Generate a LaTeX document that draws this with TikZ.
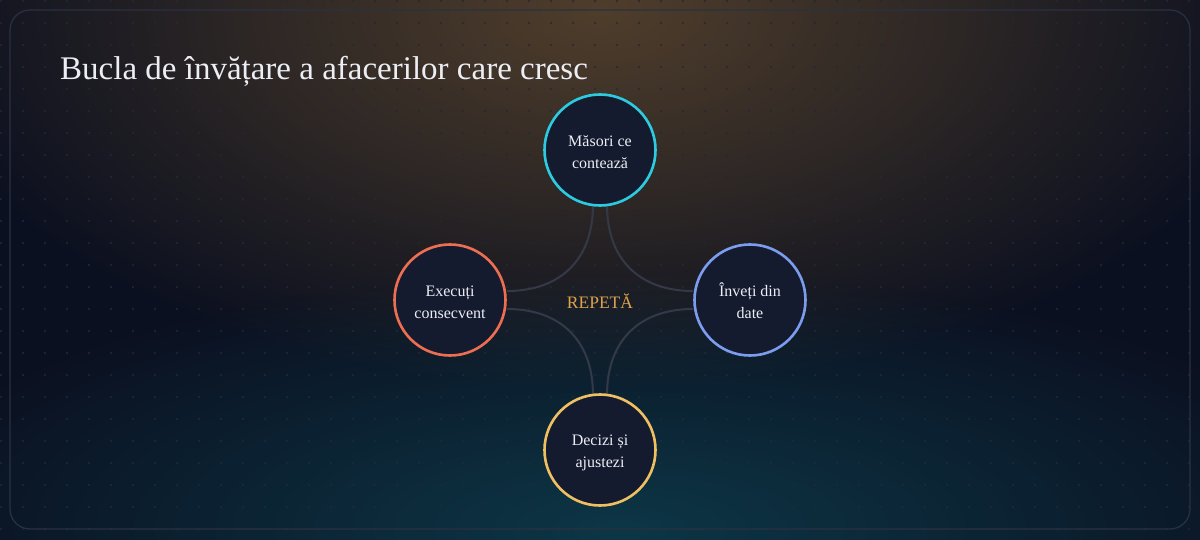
\documentclass[tikz,border=0pt]{standalone}
\usepackage{fontspec}
\setmainfont{Liberation Serif}
\usetikzlibrary{fadings}
\definecolor{bgc}{HTML}{0B1020}
\definecolor{panelline}{HTML}{2A3142}
\definecolor{dotc}{HTML}{222938}
\definecolor{warm}{HTML}{7A5A32}
\definecolor{teal}{HTML}{0E5060}
\definecolor{nodefill}{HTML}{151B2F}
\definecolor{linkc}{HTML}{343948}
\definecolor{txt}{HTML}{ECEEF4}
\definecolor{cyanc}{HTML}{2CCBE0}
\definecolor{coral}{HTML}{EE6E52}
\definecolor{bluec}{HTML}{7C9CF0}
\definecolor{yellowc}{HTML}{EEC062}
\definecolor{goldc}{HTML}{DDA24E}
\tikzfading[name=glowfade, inner color=transparent!0, outer color=transparent!100]
\newcommand{\toprule}{\rule{0pt}{16pt}}
\tikzset{
  stage/.style={circle, draw=#1, line width=2.6pt, fill=nodefill, minimum size=111pt, inner sep=0pt,
    text=txt, font=\fontsize{16}{22}\selectfont, align=center},
  link/.style={draw=linkc, line width=2pt},
}
\begin{document}
\begin{tikzpicture}[x=1pt,y=-1pt]
\useasboundingbox (0,0) rectangle (1200,540);
\fill[bgc] (0,0) rectangle (1200,540);
% glows
\fill[warm, opacity=0.62, path fading=glowfade] (600,10) ellipse (700 and 380);
\fill[teal, opacity=0.6, path fading=glowfade] (620,530) ellipse (760 and 260);
% dots
\foreach \i in {0,...,54} {
  \foreach \j in {0,...,24} {
    \fill[dotc] (22*\i+1,22*\j+1) circle (1.1);
  }
}
% panel
\draw[panelline, line width=1.2pt, rounded corners=20pt] (10,10) rectangle (1190,529);
% title
\node[anchor=base west, text=txt, font=\fontsize{33}{38}\selectfont, inner sep=0pt] (title) at (60,80) {Bucla de învățare a afacerilor care cresc};
% connectors
\coordinate (tl) at (593,205);
\coordinate (tr) at (607,205);
\coordinate (lt) at (507,291);
\coordinate (lb) at (507,309);
\coordinate (rt) at (693,291);
\coordinate (rb) at (693,309);
\coordinate (bl) at (593,395);
\coordinate (br) at (607,395);
\draw[link] (tl) .. controls (593,260) and (560,291) .. (lt);
\draw[link] (tr) .. controls (607,260) and (640,291) .. (rt);
\draw[link] (lb) .. controls (560,309) and (593,340) .. (bl);
\draw[link] (rb) .. controls (640,309) and (607,340) .. (br);
% nodes
\node[stage=cyanc] (measure) at (600,150) {\toprule Măsori ce\\contează};
\node[stage=bluec] (learn) at (750,300) {\toprule Înveți din\\date};
\node[stage=yellowc] (decide) at (600,450) {\toprule Decizi și\\ajustezi};
\node[stage=coral] (execute) at (450,300) {\toprule Execuți\\consecvent};
\node[text=goldc, font=\fontsize{17.5}{20}\selectfont] (repeat) at (600,301) {REPETĂ};
\end{tikzpicture}
\end{document}
